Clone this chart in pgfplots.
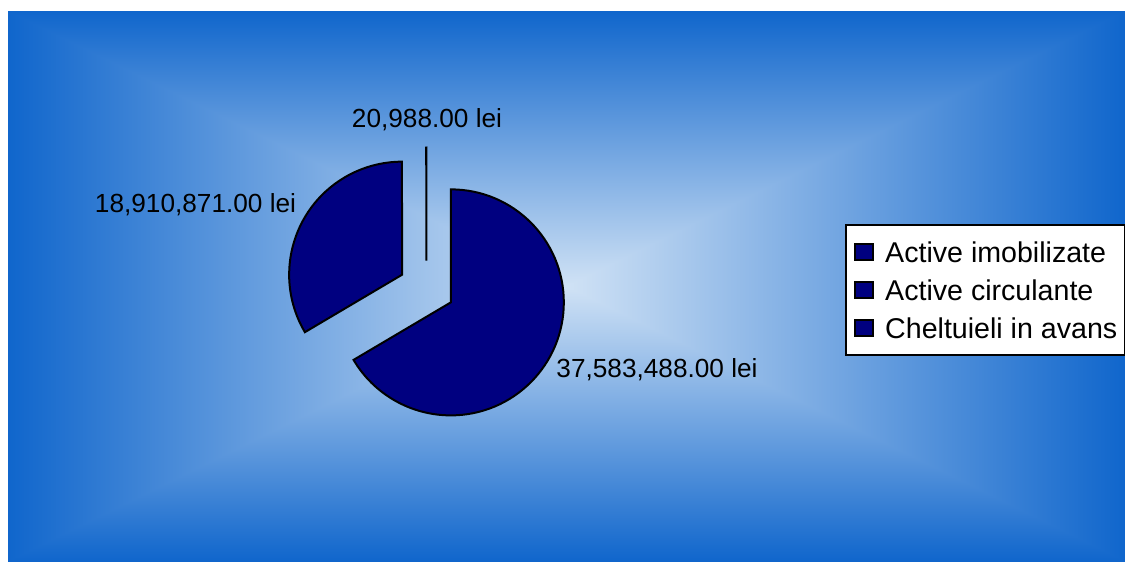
\documentclass[border=0pt]{standalone}
\usepackage{pgfplots}
\pgfplotsset{compat=1.18}
\usepackage{fontspec}
\setmainfont{Liberation Sans}
\definecolor{edgeblue}{RGB}{16,102,204}
\definecolor{centerblue}{RGB}{208,226,245}
\definecolor{pienavy}{RGB}{0,0,128}

% slice values (lei), in clockwise order from 12 o'clock
\newcommand\vA{37583488}  % Active imobilizate
\newcommand\vB{18910871}  % Active circulante
\newcommand\vC{20988}     % Cheltuieli in avans
% pie geometry (pixel units of the axis)
\newcommand\pcx{426.5}
\newcommand\pcy{272.5}
\newcommand\pexp{28}
\newcommand\prad{28.25pt}

\edef\total{\fpeval{\vA+\vB+\vC}}
\edef\aA{90}
\edef\aB{\fpeval{round(90-360*\vA/\total,4)}}
\edef\aC{\fpeval{round(\aB-360*\vB/\total,4)}}
\edef\aD{\fpeval{round(\aC-360*\vC/\total,4)}}
\edef\mA{\fpeval{(\aA+\aB)/2}}
\edef\mB{\fpeval{(\aB+\aC)/2}}
\edef\mC{\fpeval{(\aC+\aD)/2}}
\edef\cAx{\fpeval{round(\pcx+\pexp*cosd(\mA),3)}}
\edef\cAy{\fpeval{round(\pcy+\pexp*sind(\mA),3)}}
\edef\cBx{\fpeval{round(\pcx+\pexp*cosd(\mB),3)}}
\edef\cBy{\fpeval{round(\pcy+\pexp*sind(\mB),3)}}
\edef\cCx{\fpeval{round(\pcx+\pexp*cosd(\mC),3)}}
\edef\cCy{\fpeval{round(\pcy+\pexp*sind(\mC),3)}}

\begin{document}
\begin{tikzpicture}[x=0.25pt,y=0.25pt]
\fill[white] (0,0) rectangle (1125,561);
% rectangular ("from centre") gradient background
\fill[edgeblue] (8,-30) rectangle (1140,550);
\shade[top color=edgeblue, bottom color=centerblue] (8,275) rectangle (1125,550);
\shade[top color=centerblue, bottom color=edgeblue] (8,0) rectangle (1125,275);
\begin{scope}
  \clip (8,0) -- (566.5,275) -- (8,550) -- cycle;
  \shade[left color=edgeblue, right color=centerblue] (8,0) rectangle (566.5,550);
\end{scope}
\begin{scope}
  \clip (1125,0) -- (566.5,275) -- (1125,550) -- cycle;
  \shade[left color=centerblue, right color=edgeblue] (566.5,0) rectangle (1125,550);
\end{scope}

\begin{axis}[
  at={(0,0)}, anchor=origin,
  x=0.25pt, y=0.25pt,
  xmin=0, xmax=1125, ymin=0, ymax=561,
  hide axis, clip=false,
  legend cell align=left,
  legend image code/.code={%
    \draw[#1] (0pt,-2pt) rectangle (4.5pt,2pt);
    \path (7.3pt,0pt);},
  legend style={
    at={(axis cs:845,337)}, anchor=north west,
    draw=black, line width=0.5pt, fill=white,
    font=\fontsize{7.15pt}{8pt}\selectfont,
    inner xsep=2pt, inner ysep=3.3pt,
    row sep=2.5pt,
    nodes={inner sep=0pt, text height=6.05pt, text depth=0.95pt},
  },
]
\addlegendimage{fill=pienavy, draw=black, line width=0.5pt}
\addlegendentry{Active imobilizate}
\addlegendimage{fill=pienavy, draw=black, line width=0.5pt}
\addlegendentry{Active circulante}
\addlegendimage{fill=pienavy, draw=black, line width=0.5pt}
\addlegendentry{Cheltuieli in avans}

\filldraw[fill=pienavy, draw=black, line width=0.5pt, line join=miter]
  (axis cs:\cAx,\cAy) -- ++(\aA:\prad) arc[start angle=\aA, end angle=\aB, radius=\prad] -- cycle;
\filldraw[fill=pienavy, draw=black, line width=0.5pt, line join=miter]
  (axis cs:\cBx,\cBy) -- ++(\aB:\prad) arc[start angle=\aB, end angle=\aC, radius=\prad] -- cycle;
\filldraw[fill=pienavy, draw=black, line width=0.5pt]
  (axis cs:\cCx,\cCy) -- ++(\aC:\prad) arc[start angle=\aC, end angle=\aD, radius=\prad] -- cycle;

\node[font=\fontsize{6.55pt}{7pt}\selectfont, inner sep=0pt] at (axis cs:427,441) {20,988.00 lei};
\node[font=\fontsize{6.55pt}{7pt}\selectfont, inner sep=0pt] at (axis cs:195.5,356) {18,910,871.00 lei};
\node[font=\fontsize{6.55pt}{7pt}\selectfont, inner sep=0pt] at (axis cs:657,191) {37,583,488.00 lei};
\end{axis}
\pgfresetboundingbox
\path[use as bounding box] (0,0) rectangle (1125,561);
\end{tikzpicture}
\end{document}
